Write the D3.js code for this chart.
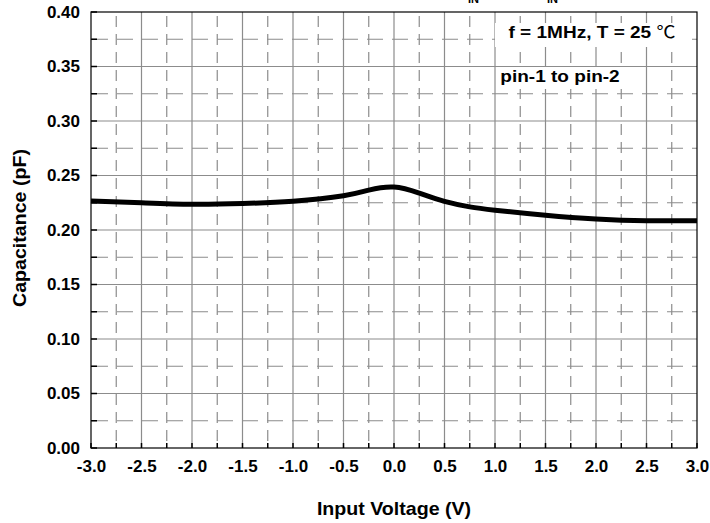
<!DOCTYPE html>
<html>
<head>
<meta charset="utf-8">
<script src="https://cdn.jsdelivr.net/npm/d3@7"></script>
<style>
  body { margin: 0; background: #fff; }
  text { font-family: "Liberation Sans", Arial, sans-serif; font-weight: bold; fill: #000; }
</style>
</head>
<body>
<svg width="710" height="523"></svg>
<script>
// data
var voltage = [-3.0, -2.5, -2.0, -1.5, -1.0, -0.5, -0.25, 0.0, 0.25, 0.5, 0.75, 1.0, 1.5, 2.0, 2.5, 3.0];
var capacitance = [0.2266, 0.2250, 0.2237, 0.2243, 0.2264, 0.2314, 0.2366, 0.2394, 0.2338, 0.2262, 0.2212, 0.2182, 0.2136, 0.2102, 0.2086, 0.2086];
var xTicks = [-3.0, -2.5, -2.0, -1.5, -1.0, -0.5, 0.0, 0.5, 1.0, 1.5, 2.0, 2.5, 3.0];
var yTicks = [0.00, 0.05, 0.10, 0.15, 0.20, 0.25, 0.30, 0.35, 0.40];

var margin = {top: 12, left: 91}
var width = 606, height = 436;

var svg = d3.select("svg");
var g = svg.append("g")
    .attr("transform", "translate(" + margin.left + "," + margin.top + ")");

var xScale = d3.scaleLinear().domain([-3, 3]).range([0, width]),
    yScale = d3.scaleLinear().domain([0, 0.4]).range([height, 0]);

// minor (dashed) grid halfway between the major lines
var xMinor = xTicks.slice(1).map(function(d) { return d - 0.25; });
var yMinor = yTicks.slice(1).map(function(d) { return d - 0.025; });

g.selectAll(".vminor").data(xMinor).enter().append("line")
    .attr("x1", function(d) { return xScale(d); })
    .attr("x2", function(d) { return xScale(d); })
    .attr("y1", 0).attr("y2", height)
    .attr("stroke", "#8c8c8c").attr("stroke-width", 1.2)
    .attr("stroke-dasharray", "11,7").attr("stroke-dashoffset", -4);

g.selectAll(".hminor").data(yMinor).enter().append("line")
    .attr("x1", 0).attr("x2", width)
    .attr("y1", function(d) { return yScale(d); })
    .attr("y2", function(d) { return yScale(d); })
    .attr("stroke", "#8c8c8c").attr("stroke-width", 1.2)
    .attr("stroke-dasharray", "16,9").attr("stroke-dashoffset", -1);

g.selectAll(".vmajor").data(xTicks.slice(1, -1)).enter().append("line")
    .attr("x1", function(d) { return xScale(d); })
    .attr("x2", function(d) { return xScale(d); })
    .attr("y1", 0).attr("y2", height)
    .attr("stroke", "#8c8c8c").attr("stroke-width", 1.2);

g.selectAll(".hmajor").data(yTicks.slice(1, -1)).enter().append("line")
    .attr("x1", 0).attr("x2", width)
    .attr("y1", function(d) { return yScale(d); })
    .attr("y2", function(d) { return yScale(d); })
    .attr("stroke", "#8c8c8c").attr("stroke-width", 1.2);

// axes: labels only, inward ticks drawn below
var fmtX = function(d) { return d3.format(".1f")(d).replace("\u2212", "-"); };
var fmtY = function(d) { return d3.format(".2f")(d); };
var xAxis = g.append("g")
    .attr("transform", "translate(0," + height + ")")
    .call(d3.axisBottom(xScale).tickValues(xTicks).tickSize(0).tickPadding(12)
        .tickFormat(fmtX));
var yAxis = g.append("g")
    .call(d3.axisLeft(yScale).tickValues(yTicks).tickSize(0).tickPadding(11)
        .tickFormat(fmtY));
[xAxis, yAxis].forEach(function(a) {
    a.select(".domain").remove();
    a.selectAll("text").attr("font-size", 17).attr("font-family", null).attr("fill", "#000");
});

g.selectAll(".xtick").data(xTicks.concat(xMinor)).enter().append("line")
    .attr("x1", function(d) { return xScale(d); })
    .attr("x2", function(d) { return xScale(d); })
    .attr("y1", height).attr("y2", height - 5)
    .attr("stroke", "#000").attr("stroke-width", 1.5);
g.selectAll(".ytick").data(yTicks.concat(yMinor)).enter().append("line")
    .attr("x1", 0).attr("x2", 6)
    .attr("y1", function(d) { return yScale(d); })
    .attr("y2", function(d) { return yScale(d); })
    .attr("stroke", "#000").attr("stroke-width", 1.5);

// annotations with white backing (text a bit wide in the original)
function note(x0, y0, w, h, cx, base) {
    g.append("rect").attr("x", x0).attr("y", y0)
        .attr("width", w).attr("height", h).attr("fill", "#fff");
    return g.append("text")
        .attr("transform", "translate(" + cx + "," + base + ") scale(1.12,1)")
        .attr("text-anchor", "middle").attr("font-size", 17);
}
var n1 = note(404, 11, 192, 24, 501, 26);
n1.append("tspan").text("f = 1MHz, T = 25 ");
n1.append("tspan").attr("font-family", "'Noto Sans CJK SC'").attr("font-weight", "normal").text("\u2103");
note(406, 55, 128, 22, 469, 70).text("pin-1 to pin-2");

// frame
g.append("rect").attr("width", width).attr("height", height)
    .attr("fill", "none").attr("stroke", "#000").attr("stroke-width", 1.2);

// curve
var line = d3.line()
    .x(function(d, i) { return xScale(voltage[i]); })
    .y(function(d) { return yScale(d); })
    .curve(d3.curveNatural);
g.append("path").datum(capacitance)
    .attr("d", line)
    .attr("fill", "none").attr("stroke", "#000").attr("stroke-width", 5);

// axis titles
svg.append("text").attr("transform", "translate(394,515) scale(1.06,1)")
    .attr("text-anchor", "middle").attr("font-size", 18.5).text("Input Voltage (V)");
svg.append("text").attr("transform", "translate(26,228) rotate(-90) scale(1.06,1)")
    .attr("text-anchor", "middle").attr("font-size", 18.5).text("Capacitance (pF)");

// title, cut off at the top edge: only the subscripts show
var title = svg.append("text").attr("font-size", 16);
title.append("tspan").attr("x", 456).attr("y", -5).text("C");
title.append("tspan").attr("x", 468).attr("y", 3).attr("font-size", 11).text("IN");
title.append("tspan").attr("x", 492).attr("y", -5).text("vs. V");
title.append("tspan").attr("x", 547).attr("y", 3).attr("font-size", 11).text("IN");
</script>
</body>
</html>
